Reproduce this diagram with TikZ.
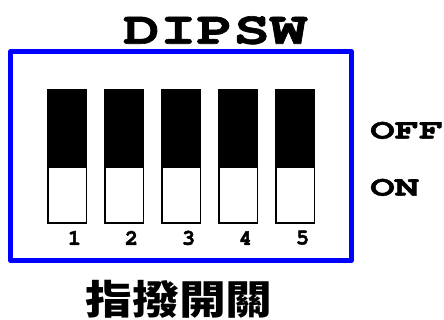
\documentclass[tikz,border=0pt]{standalone}
\usepackage[T1]{fontenc}
\usepackage{fontspec}
\newfontfamily\cjk{Noto Sans CJK TC}
\newcommand{\courb}{\fontencoding{T1}\fontfamily{pcr}\fontseries{b}\fontshape{n}}
\newcommand{\heavytxt}[2]{\special{pdf:literal direct 2 Tr #1 w}#2\special{pdf:literal direct 0 Tr}}
\begin{document}
\begin{tikzpicture}[x=1pt,y=-1pt,
  frame/.style={draw=blue, line width=5pt, line join=round},
  knob/.style={fill=black, draw=none},
  slot/.style={fill=white, draw=black, line width=1.5pt},
  numlbl/.style={inner sep=0pt, font=\courb\fontsize{22}{22}\selectfont},
  sidelbl/.style={inner sep=0pt, anchor=west, xscale=1.45, transform shape, font=\courb\fontsize{28}{28}\selectfont}]
\useasboundingbox (0,0) rectangle (444,320);
\node[inner sep=0pt, xscale=1.33, transform shape, font=\courb\fontsize{46}{46}\selectfont] (title) at (215,30.5) {\heavytxt{0.6}{DIPSW}};
\draw[frame] (10.5,51.5) rectangle (351.5,260.5);
\foreach \i in {1,...,5} {
  \pgfmathsetmacro{\xl}{47+57*(\i-1)}
  \fill[knob] (\xl,89) rectangle (\xl+40,167);
  \draw[slot] (\xl+0.75,167) rectangle (\xl+39.25,223);
  \node[numlbl] (n\i) at (\xl+27.5,238) {\heavytxt{0.5}{\i}};
}
\node[sidelbl] (off) at (370,130.5) {\heavytxt{0.4}{OFF}};
\node[sidelbl] (on) at (370,187.5) {\heavytxt{0.4}{ON}};
\node[inner sep=0pt, xscale=1.17, transform shape, font=\cjk\bfseries\fontsize{40}{40}\selectfont] (cap) at (179,299.5) {指撥開關};
\end{tikzpicture}
\end{document}
